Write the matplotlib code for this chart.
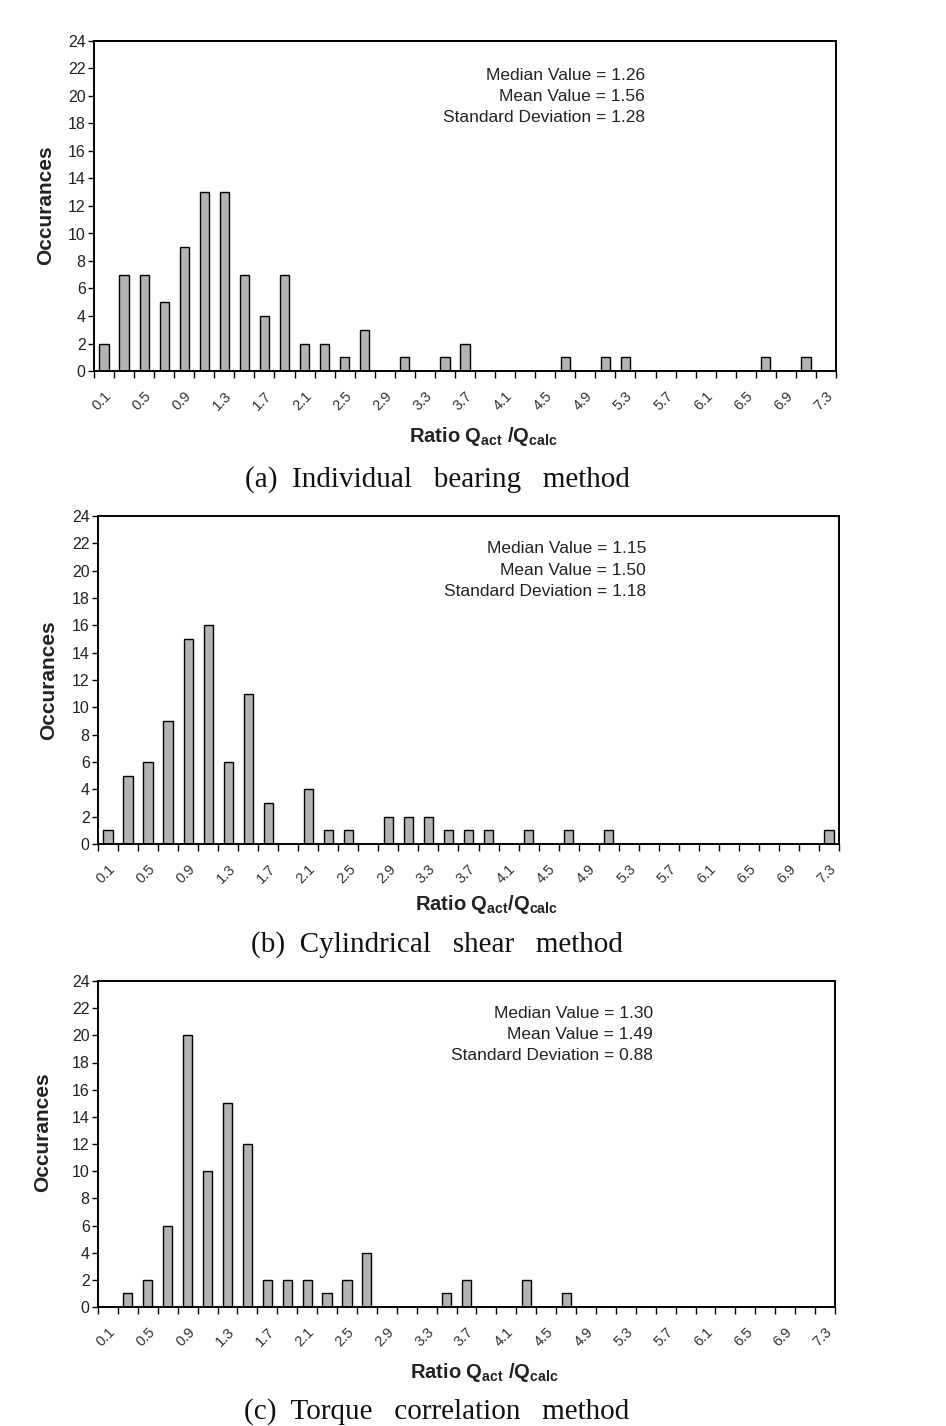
import numpy as np
import matplotlib
matplotlib.use("Agg")
import matplotlib.pyplot as plt
from matplotlib.ticker import FixedLocator, MultipleLocator

plt.rcParams['font.family'] = ['Liberation Sans', 'DejaVu Sans']
plt.rcParams['mathtext.fontset'] = 'custom'
plt.rcParams['mathtext.rm'] = 'Liberation Sans'
plt.rcParams['mathtext.bf'] = 'Liberation Sans:bold'

# category bins (ratio), step 0.2
ratio_bins = ["%.1f" % (0.1 + 0.2 * i) for i in range(37)]

# occurrences per bin
counts_a = [2, 7, 7, 5, 9, 13, 13, 7, 4, 7, 2, 2, 1, 3, 0, 1, 0, 1, 2, 0,
            0, 0, 0, 1, 0, 1, 1, 0, 0, 0, 0, 0, 0, 1, 0, 1, 0]
counts_b = [1, 5, 6, 9, 15, 16, 6, 11, 3, 0, 4, 1, 1, 0, 2, 2, 2, 1, 1, 1,
            0, 1, 0, 1, 0, 1, 0, 0, 0, 0, 0, 0, 0, 0, 0, 0, 1]
counts_c = [0, 1, 2, 6, 20, 10, 15, 12, 2, 2, 2, 1, 2, 4, 0, 0, 0, 1, 2, 0,
            0, 2, 0, 1, 0, 0, 0, 0, 0, 0, 0, 0, 0, 0, 0, 0, 0]

stats_a = ["Median Value = 1.26", "Mean Value = 1.56", "Standard Deviation = 1.28"]
stats_b = ["Median Value = 1.15", "Mean Value = 1.50", "Standard Deviation = 1.18"]
stats_c = ["Median Value = 1.30", "Mean Value = 1.49", "Standard Deviation = 0.88"]

captions = ["(a)  Individual   bearing   method",
            "(b)  Cylindrical   shear   method",
            "(c)  Torque   correlation   method"]
xlabels = [r"Ratio Q$_\mathbf{act}$ /Q$_\mathbf{calc}$",
           r"Ratio Q$_\mathbf{act}$/Q$_\mathbf{calc}$",
           r"Ratio Q$_\mathbf{act}$ /Q$_\mathbf{calc}$"]

W, H = 946, 1426
fig = plt.figure(figsize=(W / 100, H / 100), dpi=100)

def px(x, y):
    return x / W, 1 - y / H

# axes boxes in pixels: left, top, right, bottom
boxes = [(94, 41, 836, 371), (98, 516, 839, 844), (98, 981, 835, 1307)]
stat_pos = [(645, 75), (646, 549), (653, 1013)]
ylab_pos = [(46, 205), (49, 680), (43, 1132)]
xlab_y = [437, 905, 1372]
cap_y = [480, 945, 1412]

panels = [(counts_a, stats_a), (counts_b, stats_b), (counts_c, stats_c)]

for k, (counts, stats) in enumerate(panels):
    l, t, r, b = boxes[k]
    ax = fig.add_axes([l / W, 1 - b / H, (r - l) / W, (b - t) / H])
    x = np.arange(len(ratio_bins))
    ax.bar(x, counts, width=0.46, color="#b3b3b3", edgecolor="black", linewidth=1.0)
    ax.set_xlim(-0.5, len(ratio_bins) - 0.5)
    ax.set_ylim(0, 24)
    ax.yaxis.set_major_locator(MultipleLocator(2))
    ax.tick_params(axis='y', direction='out', length=4, width=1, labelsize=11.5,
                   labelcolor="#222222", pad=2)

    # labels on every other category, tick marks on category boundaries
    ax.set_xticks(x[::2])
    ax.set_xticklabels(ratio_bins[::2], rotation=45, ha='right', va='top',
                       rotation_mode='anchor', fontsize=10.5, color="#333333")
    ax.tick_params(axis='x', which='major', length=0, pad=13)
    ax.xaxis.set_minor_locator(FixedLocator(np.arange(-0.5, len(ratio_bins), 1.0)))
    ax.tick_params(axis='x', which='minor', direction='out', length=5, width=1)

    for s in ax.spines.values():
        s.set_linewidth(1.4)
        s.set_color("black")

    sx, sy = stat_pos[k]
    for j, line in enumerate(stats):
        fig.text(*px(sx, sy + 21.5 * j), line, ha='right', va='center',
                 fontsize=12.5, color="#222222")

    fig.text(*px(*ylab_pos[k]), "Occurances", rotation=90, ha='center', va='center',
             fontsize=15, fontweight='bold', color="#222222")
    fig.text(*px((l + r) / 2 + 18, xlab_y[k]), xlabels[k], ha='center', va='center',
             fontsize=14.5, fontweight='bold', color="#222222")
    fig.text(*px(437, cap_y[k]), captions[k], ha='center', va='center',
             fontsize=21, family='Liberation Serif', color="#111111")

fig.savefig("out.png", dpi=100)
